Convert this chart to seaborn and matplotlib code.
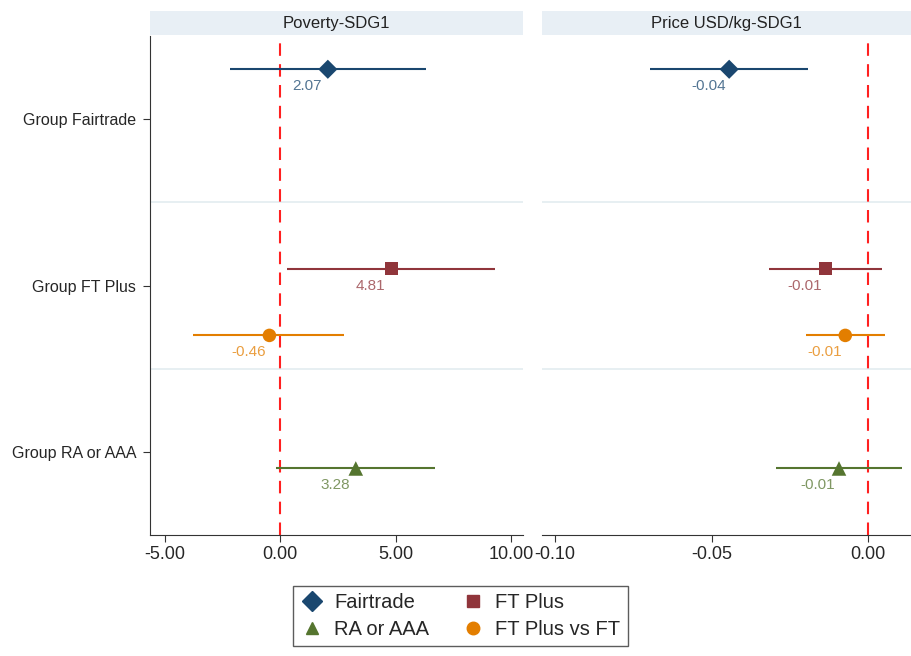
import pandas as pd
import seaborn as sns
import matplotlib.pyplot as plt
from matplotlib.patches import Rectangle
from matplotlib.lines import Line2D

# Data
groups = ["Group Fairtrade", "Group FT Plus", "Group RA or AAA"]
series = ["Fairtrade", "FT Plus", "RA or AAA", "FT Plus vs FT"]
series_group = ["Group Fairtrade", "Group FT Plus", "Group RA or AAA", "Group FT Plus"]

poverty_coef = [2.07, 4.81, 3.28, -0.46]
poverty_lo = [-2.16, 0.30, -0.17, -3.77]
poverty_hi = [6.32, 9.31, 6.71, 2.77]

price_coef = [-0.0444, -0.0137, -0.0093, -0.0073]
price_lo = [-0.0696, -0.0316, -0.0294, -0.0198]
price_hi = [-0.0192, 0.0045, 0.0109, 0.0054]

panels = ["Poverty-SDG1", "Price USD/kg-SDG1"]

# Styles
colors = {"Fairtrade": "#1a476f", "FT Plus": "#90353b",
          "RA or AAA": "#55752f", "FT Plus vs FT": "#e37e00"}
markers = {"Fairtrade": "D", "FT Plus": "s", "RA or AAA": "^", "FT Plus vs FT": "o"}
sizes = {"Fairtrade": 95, "FT Plus": 85, "RA or AAA": 110, "FT Plus vs FT": 95}
offsets = {"Fairtrade": -0.3, "FT Plus": -0.1, "RA or AAA": 0.1, "FT Plus vs FT": 0.3}

rows = []
for panel, coef, lo, hi in [(panels[0], poverty_coef, poverty_lo, poverty_hi),
                            (panels[1], price_coef, price_lo, price_hi)]:
    for s, g, c, l, h in zip(series, series_group, coef, lo, hi):
        rows.append({"panel": panel, "series": s, "group": g, "coef": c, "lo": l, "hi": h,
                     "y": groups.index(g) + offsets[s]})
df = pd.DataFrame(rows)

sns.set_style("white")
plt.rcParams["font.family"] = ["Liberation Sans", "DejaVu Sans"]

fig = plt.figure(figsize=(9.11, 6.56), dpi=100)
ax1 = fig.add_axes([150 / 911, 121 / 656, 373 / 911, 499 / 656])
ax2 = fig.add_axes([542 / 911, 121 / 656, 369 / 911, 499 / 656], sharey=ax1)

xlims = [(-5.63, 10.52), (-0.1042, 0.0137)]
xticks = [[-5, 0, 5, 10], [-0.10, -0.05, 0.0]]

for ax, panel, xl, xt in zip([ax1, ax2], panels, xlims, xticks):
    d = df[df["panel"] == panel]
    for b in [0.5, 1.5]:
        ax.axhline(b, color="#e3ecf0", lw=1.2, zorder=0)
    ax.axvline(0, color="#ff2020", lw=1.5, dashes=(6, 4), zorder=1)
    for _, r in d.iterrows():
        ax.hlines(r["y"], r["lo"], r["hi"], color=colors[r["series"]], lw=1.5, zorder=2)
    sns.scatterplot(data=d, x="coef", y="y", hue="series", style="series", size="series",
                    palette=colors, markers=markers, sizes=sizes, edgecolor="none",
                    legend=False, ax=ax, zorder=3)
    for _, r in d.iterrows():
        ax.annotate(f"{r['coef']:.2f}", (r["coef"], r["y"]), xytext=(-15, -12),
                    textcoords="offset points", ha="center", va="center",
                    fontsize=11, color=colors[r["series"]], alpha=0.75)
    ax.set_xlim(xl)
    ax.set_xticks(xt)
    ax.set_xticklabels([f"{v:.2f}" for v in xt], fontsize=13)
    ax.set_xlabel("")
    ax.set_ylabel("")
    for sp in ["top", "right"]:
        ax.spines[sp].set_visible(False)
    ax.spines["bottom"].set_color("#333333")
    ax.tick_params(axis="x", bottom=True, length=5, color="#333333", pad=3)
    # panel header
    ax.add_patch(Rectangle((0, 1.002), 1, 0.048, transform=ax.transAxes,
                           facecolor="#e8eff5", edgecolor="none", clip_on=False))
    ax.text(0.5, 1.026, panel, transform=ax.transAxes, ha="center", va="center",
            fontsize=12, color="#222222")

ax1.set_ylim(2.5, -0.5)
ax1.set_yticks(range(len(groups)))
ax1.set_yticklabels(groups, fontsize=11.5)
ax1.tick_params(axis="y", left=True, length=5, color="#333333", pad=5)
ax1.spines["left"].set_color("#333333")
ax2.spines["left"].set_visible(False)
ax2.tick_params(axis="y", left=False, labelleft=False)

# Legend
order = ["Fairtrade", "RA or AAA", "FT Plus", "FT Plus vs FT"]
handles = [Line2D([], [], linestyle="none", marker=markers[s], color=colors[s],
                  markersize=9 if s != "Fairtrade" else 10, label=s) for s in order]
leg = fig.legend(handles=handles, loc="center", bbox_to_anchor=(0.505, 0.061), ncol=2,
                 fontsize=14.5, frameon=True, fancybox=False, edgecolor="#333333",
                 handlelength=1.2, handletextpad=0.5, columnspacing=1.6,
                 borderpad=0.35, labelspacing=0.4)
leg.get_frame().set_linewidth(1.0)

fig.savefig("out.png", dpi=100)
